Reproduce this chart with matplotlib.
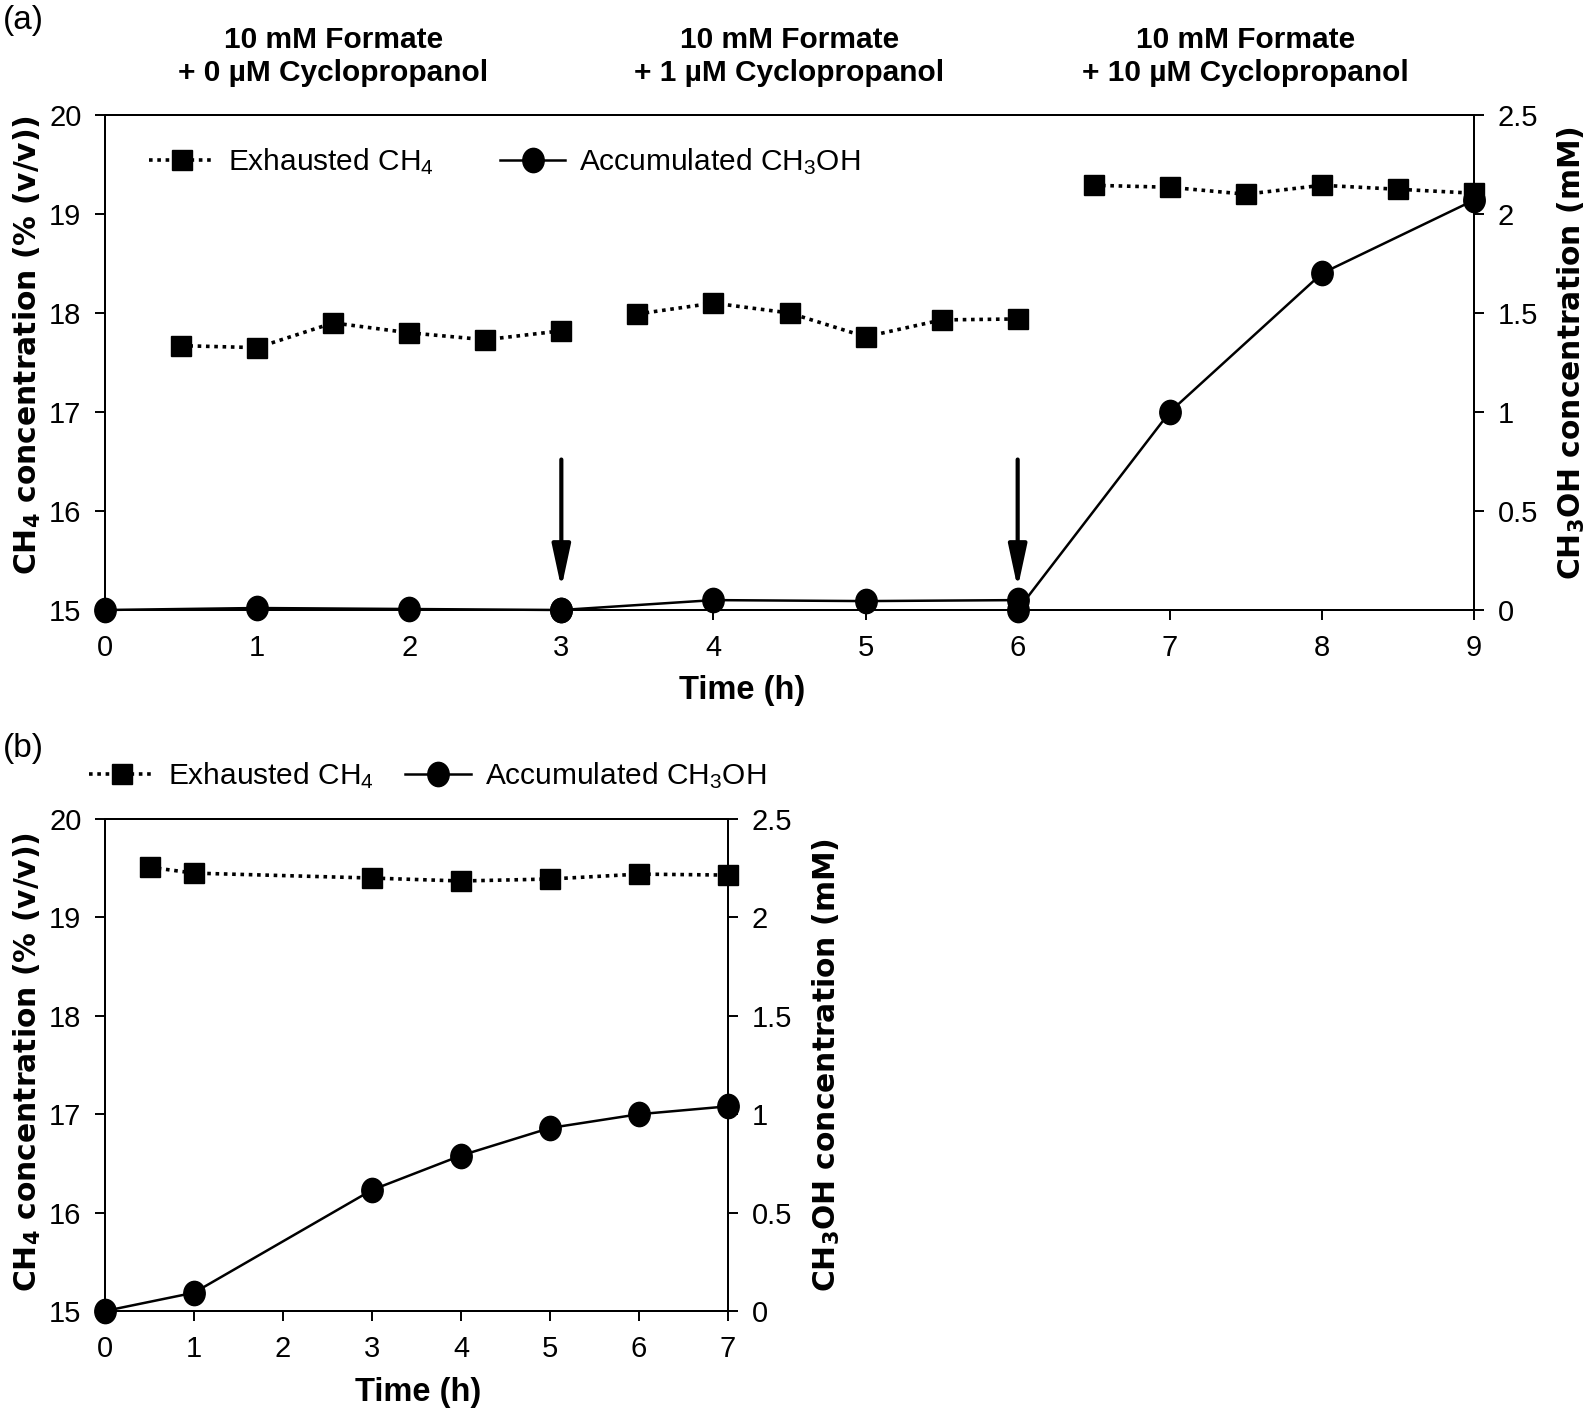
import matplotlib
matplotlib.use("Agg")
import matplotlib.pyplot as plt
import matplotlib.transforms as mtransforms
from matplotlib.lines import Line2D
from matplotlib.path import Path

plt.rcParams["font.family"] = ["Liberation Sans", "DejaVu Sans"]
plt.rcParams["mathtext.fontset"] = "custom"
plt.rcParams["mathtext.rm"] = "Liberation Sans"
plt.rcParams["mathtext.bf"] = "DejaVu Sans:bold"
plt.rcParams["mathtext.default"] = "rm"

# ---------------- data: panel (a) ----------------
a_ch4_t = [[0.5, 1, 1.5, 2, 2.5, 3], [3.5, 4, 4.5, 5, 5.5, 6], [6.5, 7, 7.5, 8, 8.5, 9]]
a_ch4_v = [[17.67, 17.65, 17.90, 17.80, 17.73, 17.82],
           [17.99, 18.10, 18.00, 17.76, 17.93, 17.94],
           [19.29, 19.27, 19.20, 19.29, 19.25, 19.21]]
a_meoh_t = [[0, 1, 2, 3], [3, 4, 5, 6], [6, 7, 8, 9]]
a_meoh_v = [[0.0, 0.01, 0.005, 0.0],
            [0.0, 0.05, 0.045, 0.05],
            [0.0, 1.00, 1.70, 2.07]]
a_titles = [("10 mM Formate", "+ 0 µM Cyclopropanol"),
            ("10 mM Formate", "+ 1 µM Cyclopropanol"),
            ("10 mM Formate", "+ 10 µM Cyclopropanol")]
a_title_x = [1.5, 4.5, 7.5]
a_arrow_x = [3, 6]

# ---------------- data: panel (b) ----------------
b_ch4_t = [0.5, 1, 3, 4, 5, 6, 7]
b_ch4_v = [19.51, 19.45, 19.40, 19.37, 19.39, 19.44, 19.43]
b_meoh_t = [0, 1, 3, 4, 5, 6, 7]
b_meoh_v = [0.0, 0.093, 0.615, 0.79, 0.93, 1.00, 1.04]

left_ticks = [15, 16, 17, 18, 19, 20]
right_ticks = [0, 0.5, 1, 1.5, 2, 2.5]
right_ticklabels = ["0", "0.5", "1", "1.5", "2", "2.5"]
legend_labels = ["Exhausted CH$_4$", "Accumulated CH$_3$OH"]

W, H = 1594, 1412
fig = plt.figure(figsize=(W / 100, H / 100), dpi=100)
FT = fig.transFigure

TICK_FS = 21
LEG_FS = 21.5
LAB_FS = 21.4
DOT = (0, (1, 1.3))

# slightly tall circle marker (as in the reference)
_c = Path.unit_circle()
ellipse = Path(_c.vertices * [0.88, 1.0], _c.codes)

sq_kw = dict(color="black", marker="s", markersize=14.3, linestyle=DOT,
             linewidth=2.6)
ci_kw = dict(color="black", marker=ellipse, markersize=17.5, linestyle="-",
             linewidth=1.8)


def fx(px):
    return px / W


def fy(py):
    return 1 - py / H


def style_axes(ax, ax2, xmax, xl, yl_left, yl_right):
    ax.set_xlim(0, xmax)
    ax.set_ylim(15, 20)
    ax2.set_ylim(0, 2.5)
    ax.set_xticks(range(0, xmax + 1))
    ax.set_yticks(left_ticks)
    ax2.set_yticks(right_ticks)
    ax2.set_yticklabels(right_ticklabels)
    for a in (ax, ax2):
        a.tick_params(direction="out", length=7, width=1.4, labelsize=TICK_FS,
                      pad=10)
        for s in a.spines.values():
            s.set_linewidth(1.4)
    ax.set_xlabel("Time (h)", fontsize=23.5, fontweight="bold")
    ax.xaxis.label.set_va("center")
    ax.xaxis.set_label_coords(fx(xl[0]), fy(xl[1]), transform=FT)
    ax.set_ylabel("CH$_\\mathbf{4}$ concentration (% (v/v))",
                  fontsize=LAB_FS, fontweight="bold", family="DejaVu Sans")
    ax.yaxis.label.set_va("center")
    ax.yaxis.set_label_coords(fx(yl_left[0]), fy(yl_left[1]), transform=FT)
    ax2.set_ylabel("CH$_\\mathbf{3}$OH concentration (mM)",
                   fontsize=LAB_FS, fontweight="bold", family="DejaVu Sans")
    ax2.yaxis.label.set_va("center")
    ax2.yaxis.set_label_coords(fx(yl_right[0]), fy(yl_right[1]), transform=FT)


h1 = Line2D([], [], **sq_kw)
h2 = Line2D([], [], **ci_kw)

# ---------------- panel (a) ----------------
axa = fig.add_axes([fx(105), fy(610), (1474 - 105) / W, (610 - 115) / H])
axa2 = axa.twinx()
for t, v in zip(a_ch4_t, a_ch4_v):
    axa.plot(t, v, clip_on=False, **sq_kw)
for t, v in zip(a_meoh_t, a_meoh_v):
    axa2.plot(t, v, clip_on=False, **ci_kw)
style_axes(axa, axa2, 9, (742, 690), (27, 345), (1571, 353))

for x in a_arrow_x:
    axa.annotate("", xy=(x, 15.22), xytext=(x, 16.52),
                 arrowprops=dict(arrowstyle="-|>,head_length=1.3,head_width=0.28",
                                 lw=3, color="black", mutation_scale=20,
                                 shrinkA=0, shrinkB=0))

tt = mtransforms.blended_transform_factory(axa.transData, FT)
for x, (l1, l2) in zip(a_title_x, a_titles):
    fig.text(x, fy(48), l1, transform=tt, ha="center", va="baseline",
             fontsize=21.5, fontweight="bold")
    fig.text(x, fy(81), l2, transform=tt, ha="center", va="baseline",
             fontsize=21.5, fontweight="bold")

fig.legend([h1, h2], legend_labels, loc="center left",
           bbox_to_anchor=(fx(149), fy(162)), bbox_transform=FT, ncol=2,
           frameon=False, fontsize=LEG_FS, handlelength=2.2,
           columnspacing=2.2, handletextpad=0.45, borderpad=0,
           borderaxespad=0)

fig.text(fx(3), fy(21), "(a)", fontsize=24, va="center", ha="left")

# ---------------- panel (b) ----------------
axb = fig.add_axes([fx(105), fy(1311), (728 - 105) / W, (1311 - 819) / H])
axb2 = axb.twinx()
axb.plot(b_ch4_t, b_ch4_v, clip_on=False, **sq_kw)
axb2.plot(b_meoh_t, b_meoh_v, clip_on=False, **ci_kw)
style_axes(axb, axb2, 7, (418, 1392), (27, 1062), (826, 1065))

fig.legend([h1, h2], legend_labels, loc="center left",
           bbox_to_anchor=(fx(89), fy(776)), bbox_transform=FT, ncol=2,
           frameon=False, fontsize=LEG_FS, handlelength=2.2,
           columnspacing=1.05, handletextpad=0.45, borderpad=0,
           borderaxespad=0)

fig.text(fx(3), fy(749), "(b)", fontsize=24, va="center", ha="left")

fig.savefig("out.png", dpi=100)
